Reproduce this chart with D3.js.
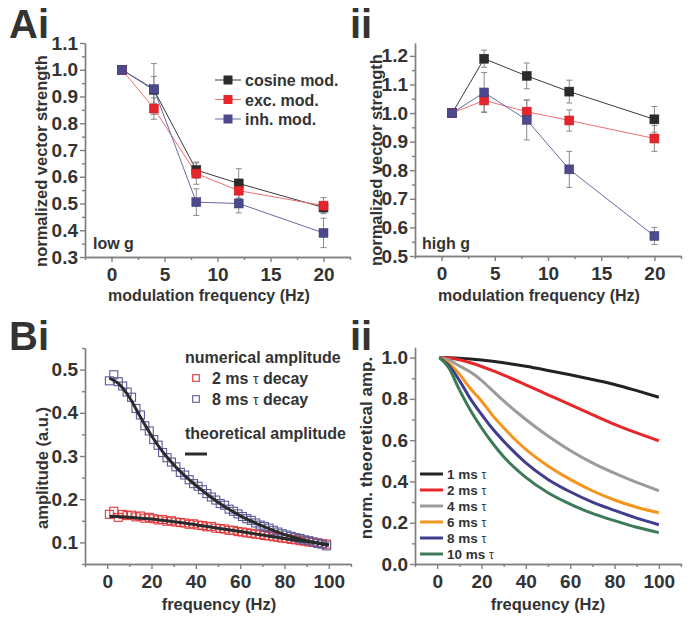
<!DOCTYPE html>
<html><head><meta charset="utf-8">
<script src="https://cdn.jsdelivr.net/npm/d3@7"></script>
<style>
body{margin:0;background:#fff}
text{font-family:"Liberation Sans",Arial,sans-serif;font-weight:bold;fill:#333}
</style>
</head><body>
<svg id="c" width="691" height="624"></svg>
<script>
// ---------- DATA ----------
const modFreq = [1, 4, 8, 12, 20];
const lowCos = [1.0, 0.925, 0.625, 0.575, 0.485];
const lowCosErr = [0, 0.05, 0.03, 0.055, 0.02];
const lowExc = [1.0, 0.855, 0.612, 0.548, 0.492];
const lowExcErr = [0, 0.04, 0.04, 0.03, 0.03];
const lowInh = [1.0, 0.928, 0.505, 0.50, 0.39];
const lowInhErr = [0, 0.095, 0.05, 0.035, 0.055];

const highCos = [1.0, 1.19, 1.13, 1.075, 0.978];
const highCosErr = [0, 0.03, 0.045, 0.04, 0.045];
const highExc = [1.0, 1.044, 1.005, 0.974, 0.911];
const highExcErr = [0, 0.04, 0.04, 0.037, 0.045];
const highInh = [1.0, 1.072, 0.976, 0.803, 0.57];
const highInhErr = [0, 0.07, 0.07, 0.063, 0.03];

const numFreq = [1,3,5,7,9,11,13,15,17,19,21,23,25,27,29,31,33,35,37,39,41,43,45,47,49,
                 51,53,55,57,59,61,63,65,67,69,71,73,75,77,79,81,83,85,87,89,91,93,95,97,99];
const num2ms = [0.165,0.172,0.158,0.165,0.162,0.163,0.159,0.161,0.156,0.158,0.155,0.152,0.153,0.149,0.150,
                0.147,0.146,0.145,0.142,0.143,0.140,0.139,0.136,0.137,0.133,0.132,0.131,0.128,0.128,0.125,
                0.124,0.122,0.121,0.119,0.118,0.116,0.115,0.113,0.112,0.110,0.109,0.107,0.106,0.104,0.103,
                0.101,0.100,0.099,0.097,0.096];
const num8ms = [0.474,0.488,0.472,0.462,0.448,0.436,0.410,0.395,0.370,0.358,0.338,0.325,0.308,0.296,0.286,
                0.275,0.262,0.256,0.245,0.236,0.230,0.222,0.213,0.205,0.198,0.190,0.186,0.177,0.172,0.166,
                0.160,0.155,0.151,0.145,0.140,0.137,0.133,0.128,0.124,0.120,0.117,0.114,0.111,0.109,0.106,
                0.104,0.101,0.098,0.096,0.092];

const theoFreq = [1, 5, 10, 15, 20, 25, 30, 40, 50, 60, 70, 80, 90, 100];
const theo2ms = [0.160,0.160,0.158,0.156,0.154,0.151,0.148,0.141,0.133,0.125,0.117,0.109,0.102,0.095];
const theo8ms = [0.480,0.468,0.436,0.390,0.347,0.310,0.280,0.232,0.193,0.162,0.138,0.118,0.104,0.093];

const tauLabels = ["1 ms", "2 ms", "4 ms", "6 ms", "8 ms", "10 ms"];
const norm1 = [1,0.999,0.997,0.993,0.988,0.982,0.975,0.958,0.938,0.917,0.894,0.870,0.840,0.808];
const norm2 = [1,0.998,0.990,0.975,0.957,0.937,0.915,0.868,0.820,0.772,0.724,0.677,0.635,0.597];
const norm4 = [1,0.990,0.960,0.930,0.890,0.840,0.790,0.700,0.620,0.550,0.490,0.440,0.395,0.355];
const norm6 = [1,0.975,0.920,0.850,0.790,0.720,0.660,0.555,0.475,0.410,0.355,0.310,0.275,0.248];
const norm8 = [1,0.965,0.890,0.800,0.725,0.655,0.595,0.490,0.410,0.350,0.300,0.260,0.222,0.190];
const norm10 = [1,0.955,0.845,0.745,0.660,0.585,0.520,0.420,0.345,0.290,0.245,0.210,0.178,0.152];

const aXMajor = [0, 5, 10, 15, 20];
const aXMinor = [-2.5, 2.5, 7.5, 12.5, 17.5, 22.5];
const aiYMajor = [0.3,0.4,0.5,0.6,0.7,0.8,0.9,1.0,1.1];
const aiiYMajor = [0.5,0.6,0.7,0.8,0.9,1.0,1.1,1.2];
const bXMajor = [0, 20, 40, 60, 80, 100];
const bXMinor = [-10, 10, 30, 50, 70, 90, 110];
const biYMajor = [0.1,0.2,0.3,0.4,0.5];
const biiYMajor = [0.0,0.2,0.4,0.6,0.8,1.0];

// ---------- STYLE ----------
const C = {black:"#2b2b2b", red:"#e8242c", purple:"#4c4a8c", axis:"#808080"};
const lineC = {cos:"#3a3a3a", exc:"#f07070", inh:"#6b69a3"};
const tauColors = ["#222222","#e8262b","#9b9b9b","#f7941d","#3f3d8c","#3d7a58"];

const svg = d3.select("#c");
svg.append("rect").attr("width",691).attr("height",624).attr("fill","#fff");

function axes(xs, ys, xMaj, xMin, yMaj, yMin, yFmt) {
  const g = svg.append("g");
  const [xa, xb] = xs.range(); const [ya, yb] = ys.range();
  const gx = g.append("g").attr("transform", `translate(0,${ya})`)
    .call(d3.axisBottom(xs).tickValues(xMaj).tickSize(5).tickSizeOuter(0).tickFormat(d3.format("d")).tickPadding(2));
  g.append("g").attr("transform", `translate(0,${ya})`)
    .call(d3.axisBottom(xs).tickValues(xMin).tickSize(3).tickSizeOuter(0).tickFormat(""));
  const gy = g.append("g").attr("transform", `translate(${xa},0)`)
    .call(d3.axisLeft(ys).tickValues(yMaj).tickSize(5).tickSizeOuter(0).tickFormat(d3.format(yFmt)).tickPadding(2));
  g.append("g").attr("transform", `translate(${xa},0)`)
    .call(d3.axisLeft(ys).tickValues(yMin).tickSize(3).tickSizeOuter(0).tickFormat(""));
  g.selectAll("path.domain, line").attr("stroke", C.axis).attr("stroke-width", 1.4);
  g.selectAll("text").attr("font-size", 19).attr("font-family", null).attr("fill", "#333");
  gx.selectAll("text").attr("dy", "0.9em");
}

function title(x, y, s, size, rot) {
  const t = svg.append("text").attr("font-size", size).attr("text-anchor", "middle").text(s);
  if (rot) t.attr("transform", `translate(${x},${y}) rotate(-90)`); else t.attr("x", x).attr("y", y);
  return t;
}

function panelLetter(x, y, s) {
  svg.append("text").attr("x", x).attr("y", y).attr("font-size", 40).attr("fill", "#333").text(s);
}

// ---------- PANEL A ----------
function panelA(xs, ys, series) {
  series.forEach(s => {
    const pts = modFreq.map((f, i) => [f, s.v[i], s.e[i]]);
    svg.append("path").datum(pts).attr("fill", "none").attr("stroke", s.lc).attr("stroke-width", 1)
      .attr("d", d3.line().x(d => xs(d[0])).y(d => ys(d[1])));
  });
  series.forEach(s => {
    const pts = modFreq.map((f, i) => [f, s.v[i], s.e[i]]).filter(d => d[2] > 0);
    const g = svg.append("g").attr("stroke", "#8a8a8a").attr("stroke-width", 1);
    pts.forEach(d => {
      const x = xs(d[0]);
      g.append("line").attr("x1", x).attr("x2", x).attr("y1", ys(d[1] - d[2])).attr("y2", ys(d[1] + d[2]));
      [d[1] - d[2], d[1] + d[2]].forEach(v => g.append("line").attr("x1", x - 3).attr("x2", x + 3).attr("y1", ys(v)).attr("y2", ys(v)));
    });
  });
  series.forEach(s => {
    svg.append("g").selectAll("rect").data(modFreq.map((f, i) => [f, s.v[i]])).join("rect")
      .attr("x", d => xs(d[0]) - 4.5).attr("y", d => ys(d[1]) - 4.5).attr("width", 9).attr("height", 9)
      .attr("fill", s.c).attr("stroke", d3.color(s.c).darker(0.5)).attr("stroke-width", 0.5);
  });
}

// Ai
const xAi = d3.scaleLinear().domain([-2.5, 22.5]).range([85, 350]);
const yAi = d3.scaleLinear().domain([0.3, 1.1]).range([257, 43]);
axes(xAi, yAi, aXMajor, aXMinor, aiYMajor, [0.35,0.45,0.55,0.65,0.75,0.85,0.95,1.05], ".1f");
panelA(xAi, yAi, [
  {v: lowCos, e: lowCosErr, c: C.black, lc: lineC.cos},
  {v: lowExc, e: lowExcErr, c: C.red, lc: lineC.exc},
  {v: lowInh, e: lowInhErr, c: C.purple, lc: lineC.inh}
]);
title(47, 161, "normalized vector strength", 16.5, true);
title(209, 301, "modulation frequency (Hz)", 16, false);
svg.append("text").attr("x", 93).attr("y", 249).attr("font-size", 16).text("low g");
// legend
const legA = [["cosine mod.", C.black, lineC.cos], ["exc. mod.", C.red, lineC.exc], ["inh. mod.", C.purple, lineC.inh]];
legA.forEach((d, i) => {
  const y = 80 + i * 19.5;
  svg.append("line").attr("x1", 215).attr("x2", 241).attr("y1", y).attr("y2", y).attr("stroke", d[2]).attr("stroke-width", 1);
  svg.append("rect").attr("x", 228 - 4.5).attr("y", y - 4.5).attr("width", 9).attr("height", 9).attr("fill", d[1]);
  svg.append("text").attr("x", 245).attr("y", y + 6).attr("font-size", 16).text(d[0]);
});
panelLetter(9, 38, "Ai");

// Aii
const xAii = d3.scaleLinear().domain([-2.5, 22.5]).range([415, 681]);
const yAii = d3.scaleLinear().domain([0.5, 1.245]).range([256, 43]);
axes(xAii, yAii, aXMajor, aXMinor, aiiYMajor, [0.55,0.65,0.75,0.85,0.95,1.05,1.15], ".1f");
panelA(xAii, yAii, [
  {v: highCos, e: highCosErr, c: C.black, lc: lineC.cos},
  {v: highExc, e: highExcErr, c: C.red, lc: lineC.exc},
  {v: highInh, e: highInhErr, c: C.purple, lc: lineC.inh}
]);
title(382, 160, "normalized vector strength", 16.5, true);
title(539, 301, "modulation frequency (Hz)", 16, false);
svg.append("text").attr("x", 422).attr("y", 249).attr("font-size", 16).text("high g");
panelLetter(350, 38, "ii");

// ---------- PANEL Bi ----------
const xBi = d3.scaleLinear().domain([-10, 110]).range([85, 351]);
const yBi = d3.scaleLinear().domain([0.05, 0.55]).range([564, 348]);
axes(xBi, yBi, bXMajor, bXMinor, biYMajor, [0.05,0.15,0.25,0.35,0.45,0.55], ".1f");
[[num2ms, "#e2383a"], [num8ms, "#5b5a96"]].forEach(([vals, col]) => {
  svg.append("g").selectAll("rect").data(numFreq.map((f, i) => [f, vals[i]])).join("rect")
    .attr("x", d => xBi(d[0]) - 4).attr("y", d => yBi(d[1]) - 4).attr("width", 8).attr("height", 8)
    .attr("fill", "none").attr("stroke", col).attr("stroke-width", 1.1);
});
[theo2ms, theo8ms].forEach(vals => {
  svg.append("path").datum(theoFreq.map((f, i) => [f, vals[i]])).attr("fill", "none")
    .attr("stroke", "#2a2a2a").attr("stroke-width", 3)
    .attr("d", d3.line().curve(d3.curveMonotoneX).x(d => xBi(d[0])).y(d => yBi(d[1])));
});
title(48, 468, "amplitude (a.u.)", 16.5, true);
title(219, 610, "frequency (Hz)", 16.5, false);
svg.append("text").attr("x", 185).attr("y", 363).attr("font-size", 16).text("numerical amplitude");
[["2 ms ", "#e2383a", 378], ["8 ms ", "#5b5a96", 399]].forEach(([s, col, y]) => {
  svg.append("rect").attr("x", 196 - 3.3).attr("y", y - 3.3).attr("width", 6.6).attr("height", 6.6)
    .attr("fill", "none").attr("stroke", col).attr("stroke-width", 1.1);
  const t = svg.append("text").attr("x", 212).attr("y", y + 6).attr("font-size", 16);
  t.append("tspan").text(s);
  t.append("tspan").attr("font-weight", "normal").attr("font-size", 14).text("τ");
  t.append("tspan").text(" decay");
});
svg.append("text").attr("x", 185).attr("y", 439).attr("font-size", 16).text("theoretical amplitude");
svg.append("line").attr("x1", 185).attr("x2", 207).attr("y1", 454).attr("y2", 454).attr("stroke", "#2a2a2a").attr("stroke-width", 3);
panelLetter(9, 350, "Bi");

// ---------- PANEL Bii ----------
const xBii = d3.scaleLinear().domain([-10, 110]).range([415, 681]);
const yBii = d3.scaleLinear().domain([0, 1.05]).range([564, 347.3]);
axes(xBii, yBii, bXMajor, bXMinor, biiYMajor, [0.1,0.3,0.5,0.7,0.9], ".1f");
const normSeries = [norm1, norm2, norm4, norm6, norm8, norm10];
normSeries.forEach((vals, k) => {
  svg.append("path").datum(theoFreq.map((f, i) => [f, vals[i]])).attr("fill", "none")
    .attr("stroke", tauColors[k]).attr("stroke-width", 3)
    .attr("d", d3.line().curve(d3.curveMonotoneX).x(d => xBii(d[0])).y(d => yBii(d[1])));
});
tauLabels.forEach((s, k) => {
  const y = 474 + k * 16;
  svg.append("line").attr("x1", 420).attr("x2", 443).attr("y1", y).attr("y2", y).attr("stroke", tauColors[k]).attr("stroke-width", 3);
  const t = svg.append("text").attr("x", 447).attr("y", y + 5).attr("font-size", 13.5);
  t.append("tspan").text(s + " ");
  t.append("tspan").attr("font-weight", "normal").attr("font-size", 12).text("τ");
});
title(372, 448, "norm. theoretical amp.", 17, true);
title(548, 610, "frequency (Hz)", 16.5, false);
panelLetter(350, 350, "ii");
</script>
</body></html>
